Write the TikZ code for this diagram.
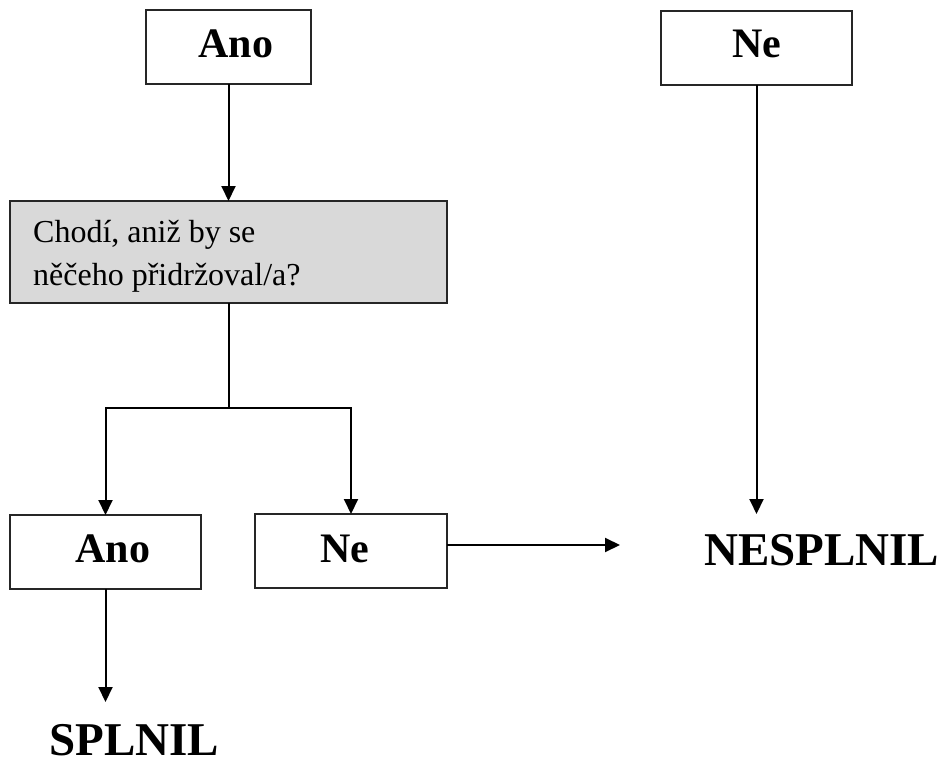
\documentclass[tikz,border=0pt]{standalone}
\usepackage{fontspec}
\setmainfont{Liberation Serif}
\usetikzlibrary{arrows.meta}
\begin{document}
\begin{tikzpicture}[x=1pt,y=-1pt,
  box/.style={draw=black!85,line width=2pt,inner sep=0pt,outer sep=0pt},
  qbox/.style={box,fill=black!15},
  lbl/.style={inner sep=0pt,font=\fontsize{42}{50}\selectfont\bfseries},
  big/.style={inner sep=0pt,font=\fontsize{47}{56}\selectfont\bfseries},
  qtxt/.style={inner sep=0pt,font=\fontsize{32}{43}\selectfont},
  conn/.style={line width=2pt},
  arr/.style={conn,-{Triangle[length=15pt,width=14pt]}}]
\useasboundingbox (0,0) rectangle (942,765);
% boxes
\node[box,minimum width=165pt,minimum height=74pt] (A1) at (228.5,47) {};
\node[box,minimum width=191pt,minimum height=74pt] (N1) at (756.5,48) {};
\node[qbox,minimum width=437pt,minimum height=102pt] (Q) at (228.5,252) {};
\node[box,minimum width=191pt,minimum height=74pt] (A2) at (105.5,552) {};
\node[box,minimum width=192pt,minimum height=74pt] (N2) at (351,551) {};
% texts
\node[lbl,anchor=base] (tA1) at (236,58) {Ano};
\node[lbl,anchor=base] (tN1) at (757,58) {Ne};
\node[lbl,anchor=base] (tA2) at (113,562) {Ano};
\node[lbl,anchor=base] (tN2) at (345,562) {Ne};
\node[qtxt,anchor=base west] (q1) at (33,242) {Chodí, aniž by se};
\node[qtxt,anchor=base west] (q2) at (33,285) {něčeho přidržoval/a?};
\node[big,anchor=base west] (SPL) at (49,755) {SPLNIL};
\node[big,anchor=base west] (NES) at (704,565) {NESPLNIL};
% connector points
\coordinate (j) at (228.5,408);
\coordinate (sEnd) at (105.5,702);
\coordinate (nEnd) at (620,545);
\coordinate (rEnd) at (756.5,514);
% connectors
\draw[arr] (A1.south) -- (Q.north);
\draw[conn] (Q.south) -- (j);
\draw[arr] (j) -| (A2.north);
\draw[arr] (j) -| (N2.north);
\draw[arr] (A2.south) -- (sEnd);
\draw[arr] (N2.east |- nEnd) -- (nEnd);
\draw[arr] (N1.south) -- (rEnd);
\end{tikzpicture}
\end{document}
